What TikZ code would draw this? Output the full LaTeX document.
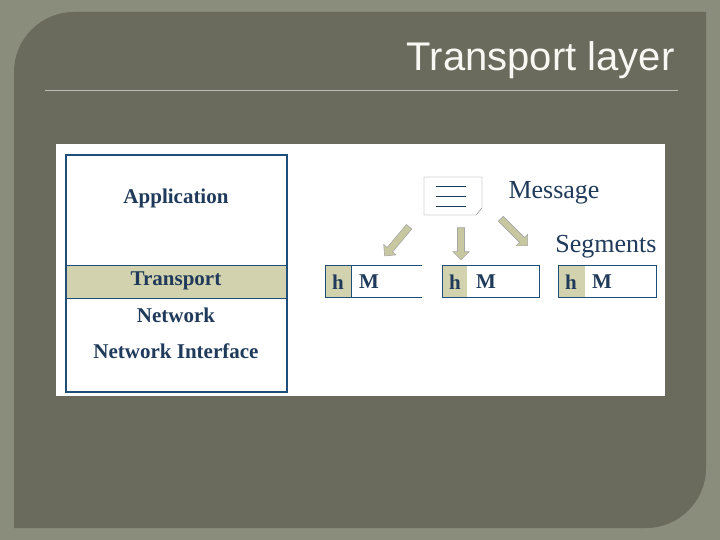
\documentclass[tikz,border=0pt]{standalone}
\usepackage{fontspec}
\setsansfont{Liberation Sans}
\setmainfont{Liberation Serif}
\usetikzlibrary{positioning,shapes.arrows}
\definecolor{frame}{HTML}{8A8D7C}
\definecolor{panel}{HTML}{6A6A5D}
\definecolor{ink}{HTML}{1F3A5A}
\definecolor{stack}{HTML}{1F4E79}
\definecolor{tan}{HTML}{D3D2AE}
\definecolor{arrowfill}{HTML}{C8C8A0}

\begin{document}
\begin{tikzpicture}[x=1pt, y=-1pt,
        layer/.style={font=\bfseries\fontsize{21}{24}\selectfont, text=ink},
        seg/.style={font=\bfseries\fontsize{21}{24}\selectfont, text=ink},
        caption/.style={font=\fontsize{26}{28}\selectfont, text=ink},
        fat/.style={draw=gray!70, fill=arrowfill, line width=0.6pt}
    ]

    % Slide
    \fill[frame] (0,0) rectangle (720,540);
    \useasboundingbox (0,0) rectangle (720,540);
    \fill[panel] (14,72) arc[start angle=180, end angle=270, radius=60] -- (706,12)
        -- (706,468) arc[start angle=0, end angle=90, radius=60] -- (14,528) -- cycle;
    \node (title) [anchor=east, font=\sffamily\fontsize{40}{44}\selectfont, text=white!85!tan] at (678,60) {Transport layer};
    \coordinate (ruleL) at (45,90);
    \coordinate (ruleR) at (678,90);
    \draw[color=white!55!panel, line width=0.8pt] (ruleL) -- (ruleR);

    % Figure
    \fill[white] (56,144) rectangle (665,396);
    \fill[tan] (66,265) rectangle (287,298);
    \draw[stack, line width=0.6pt] (66,265) -- (287,265) (66,298) -- (287,298);
    \draw[stack, line width=2.5pt] (66,155) rectangle (287,392);

    \node (app) [layer] at (176,198) {Application};
    \node (trans) [layer] at (176,281) {Transport};
    \node (net) [layer] at (176,315) {Network};
    \node (nif) [layer] at (176,351) {Network Interface};

    % Message
    \draw[gray, fill=white] (424,177) -- (482,177) -- (482,208) -- (476,215) -- (424,215) -- cycle;
    \foreach \y in {186,196,206}
        \draw[ink, line width=0.7pt] (436,\y) -- (466,\y);
    \node (msg) [caption] at (554,193) {Message};
    \node (segs) [caption] at (606,247) {Segments};

    % Segments
    \fill[tan] (325,265) rectangle (351,297);
    \draw[stack, line width=1pt] (422,265) -- (325,265) -- (325,297) -- (422,297) (351,265) -- (351,297);
    \node (h1) [seg] at (338,282) {h};
    \node (m1) [seg] at (369,282) {M};

    \fill[tan] (442,265) rectangle (467,297);
    \draw[stack, line width=1pt] (442,265) rectangle (539,297);
    \node (h2) [seg] at (455,282) {h};
    \node (m2) [seg] at (486,282) {M};

    \fill[tan] (558,265) rectangle (585,297);
    \draw[stack, line width=1pt] (558,265) rectangle (656,297);
    \node (h3) [seg] at (571,282) {h};
    \node (m3) [seg] at (602,282) {M};

    % Arrows
    \node (a1) [fat, single arrow, minimum height=38pt, minimum width=16pt, single arrow head extend=3pt, inner sep=2pt, rotate=-130] at (398,240) {};
    \node (a2) [fat, single arrow, minimum height=32pt, minimum width=16pt, single arrow head extend=3pt, inner sep=2pt, rotate=-90] at (461,242) {};
    \node (a3) [fat, single arrow, minimum height=38pt, minimum width=16pt, single arrow head extend=3pt, inner sep=2pt, rotate=-45] at (513,231) {};

\end{tikzpicture}
\end{document}
